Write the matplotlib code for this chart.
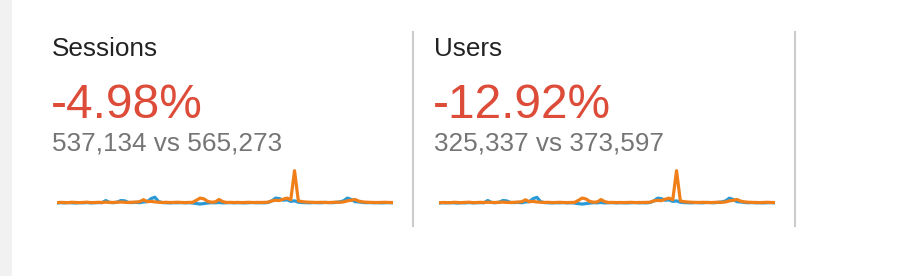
import numpy as np
import matplotlib.pyplot as plt
from matplotlib.lines import Line2D
from matplotlib.patches import Rectangle

plt.rcParams['font.family'] = ['Liberation Sans', 'DejaVu Sans']

titles = ['Sessions', 'Users']
changes = ['-4.98%', '-12.92%']
totals = ['537,134 vs 565,273', '325,337 vs 373,597']

# daily values (orange = current, blue = previous)
sessions_cur = [5750, 5820, 5790, 5760, 5840, 5800, 5770, 5810, 5850, 5780,
                5790, 5830, 5800, 5860, 5820, 5800, 5850, 5880, 5830, 5800,
                5840, 5870, 5950, 6300, 5950, 6000, 5900, 5850, 5800, 5830,
                5790, 5810, 5840, 5800, 5780, 5810, 5820, 6200, 6600, 6450,
                6000, 5850, 5900, 6350, 5950, 5800, 5820, 5790, 5810, 5780,
                5800, 5830, 5790, 5810, 5800, 5820, 5850, 6100, 6200, 6150,
                6400, 6600, 6300, 11600, 6100, 5950, 5880, 5850, 5820, 5800,
                5830, 5810, 5790, 5820, 5850, 5840, 5900, 6100, 6200, 6350,
                6050, 5900, 5850, 5820, 5800, 5790, 5810, 5830, 5800, 5790]
sessions_prev = [5700, 5760, 5720, 5780, 5740, 5700, 5760, 5730, 5790, 5720,
                 5750, 5780, 5760, 6150, 5800, 5760, 5850, 6150, 6100, 5800,
                 5780, 5820, 5760, 5900, 5950, 6500, 6750, 5950, 5780, 5750,
                 5720, 5760, 5740, 5780, 5730, 5760, 5700, 5600, 5520, 5600,
                 5700, 5760, 5740, 5800, 5720, 5750, 5770, 5730, 5760, 5740,
                 5720, 5760, 5780, 5740, 5760, 5730, 5800, 6100, 6600, 6500,
                 6200, 6300, 6000, 6100, 5850, 5780, 5760, 5740, 5780, 5760,
                 5740, 5800, 5780, 5760, 5820, 5900, 6100, 6600, 6350, 5950,
                 5900, 5800, 5760, 5780, 5740, 5760, 5720, 5750, 5770, 5740]
users_cur = [3560, 3600, 3590, 3570, 3620, 3600, 3580, 3610, 3630, 3590,
             3590, 3620, 3600, 3630, 3610, 3600, 3620, 3640, 3610, 3600,
             3620, 3640, 3690, 3900, 3690, 3720, 3660, 3630, 3600, 3620,
             3590, 3600, 3620, 3600, 3590, 3600, 3610, 3840, 4100, 4000,
             3720, 3630, 3660, 3930, 3690, 3600, 3610, 3590, 3600, 3590,
             3600, 3620, 3590, 3600, 3600, 3610, 3630, 3780, 3840, 3810,
             3970, 4090, 3900, 7200, 3780, 3690, 3650, 3630, 3610, 3600,
             3620, 3600, 3590, 3610, 3630, 3620, 3660, 3780, 3840, 3940,
             3750, 3660, 3630, 3610, 3600, 3590, 3600, 3620, 3600, 3590]
users_prev = [3530, 3570, 3550, 3580, 3560, 3530, 3570, 3550, 3590, 3550,
              3570, 3580, 3570, 3820, 3600, 3570, 3630, 3820, 3780, 3600,
              3590, 3610, 3570, 3660, 3690, 4030, 4180, 3690, 3590, 3570,
              3550, 3570, 3560, 3590, 3550, 3570, 3530, 3470, 3420, 3470,
              3530, 3570, 3560, 3600, 3550, 3570, 3580, 3550, 3570, 3560,
              3550, 3570, 3590, 3560, 3570, 3550, 3600, 3780, 4090, 4030,
              3850, 3900, 3720, 3780, 3630, 3590, 3570, 3560, 3590, 3570,
              3560, 3600, 3590, 3570, 3610, 3660, 3780, 4090, 3940, 3690,
              3660, 3600, 3570, 3590, 3560, 3570, 3550, 3570, 3580, 3560]

W, H = 912, 276
fig = plt.figure(figsize=(W / 100, H / 100), dpi=100)
fig.patch.set_facecolor('white')

def fx(px):
    return px / W

def fy(px):
    return 1 - px / H

# grey strip on the left
fig.patches.append(Rectangle((0, 0), fx(12), 1, transform=fig.transFigure,
                             facecolor='#f1f1f1', edgecolor='none'))

# panel separators
for sx in [413, 795]:
    fig.lines.append(Line2D([fx(sx), fx(sx)], [fy(32), fy(226)],
                            transform=fig.transFigure, color='#cccccc', lw=1.5))

series = [(sessions_cur, sessions_prev), (users_cur, users_prev)]
for i in range(2):
    off = 382 * i
    fig.text(fx(52 + off), fy(55.7), titles[i], fontsize=18.8, color='#222222',
             va='baseline', ha='left')
    fig.text(fx(51 + off), fy(117.5), changes[i], fontsize=34.5, color='#dd4b39',
             va='baseline', ha='left')
    fig.text(fx(52 + off), fy(151), totals[i], fontsize=18.8, color='#757575',
             va='baseline', ha='left')

    cur, prev = series[i]
    cur = np.array(cur)
    prev = np.array(prev)
    base = np.median(cur)
    upp = (cur.max() - base) / 31.6
    # axes spanning pixel rows 165..210
    ax = fig.add_axes([fx(56.7 + off), fy(210), fx(336), 45 / H])
    ax.set_ylim(base - 7.7 * upp, cur.max() + 5.7 * upp)
    x = np.arange(len(cur))
    ax.set_xlim(0, len(cur) - 1)
    ax.plot(x, prev, color='#2a9ad6', lw=2.3, solid_joinstyle='round')
    ax.plot(x, cur, color='#f07f1a', lw=2.3, solid_joinstyle='round')
    ax.axis('off')

fig.savefig('out.png', dpi=100)
